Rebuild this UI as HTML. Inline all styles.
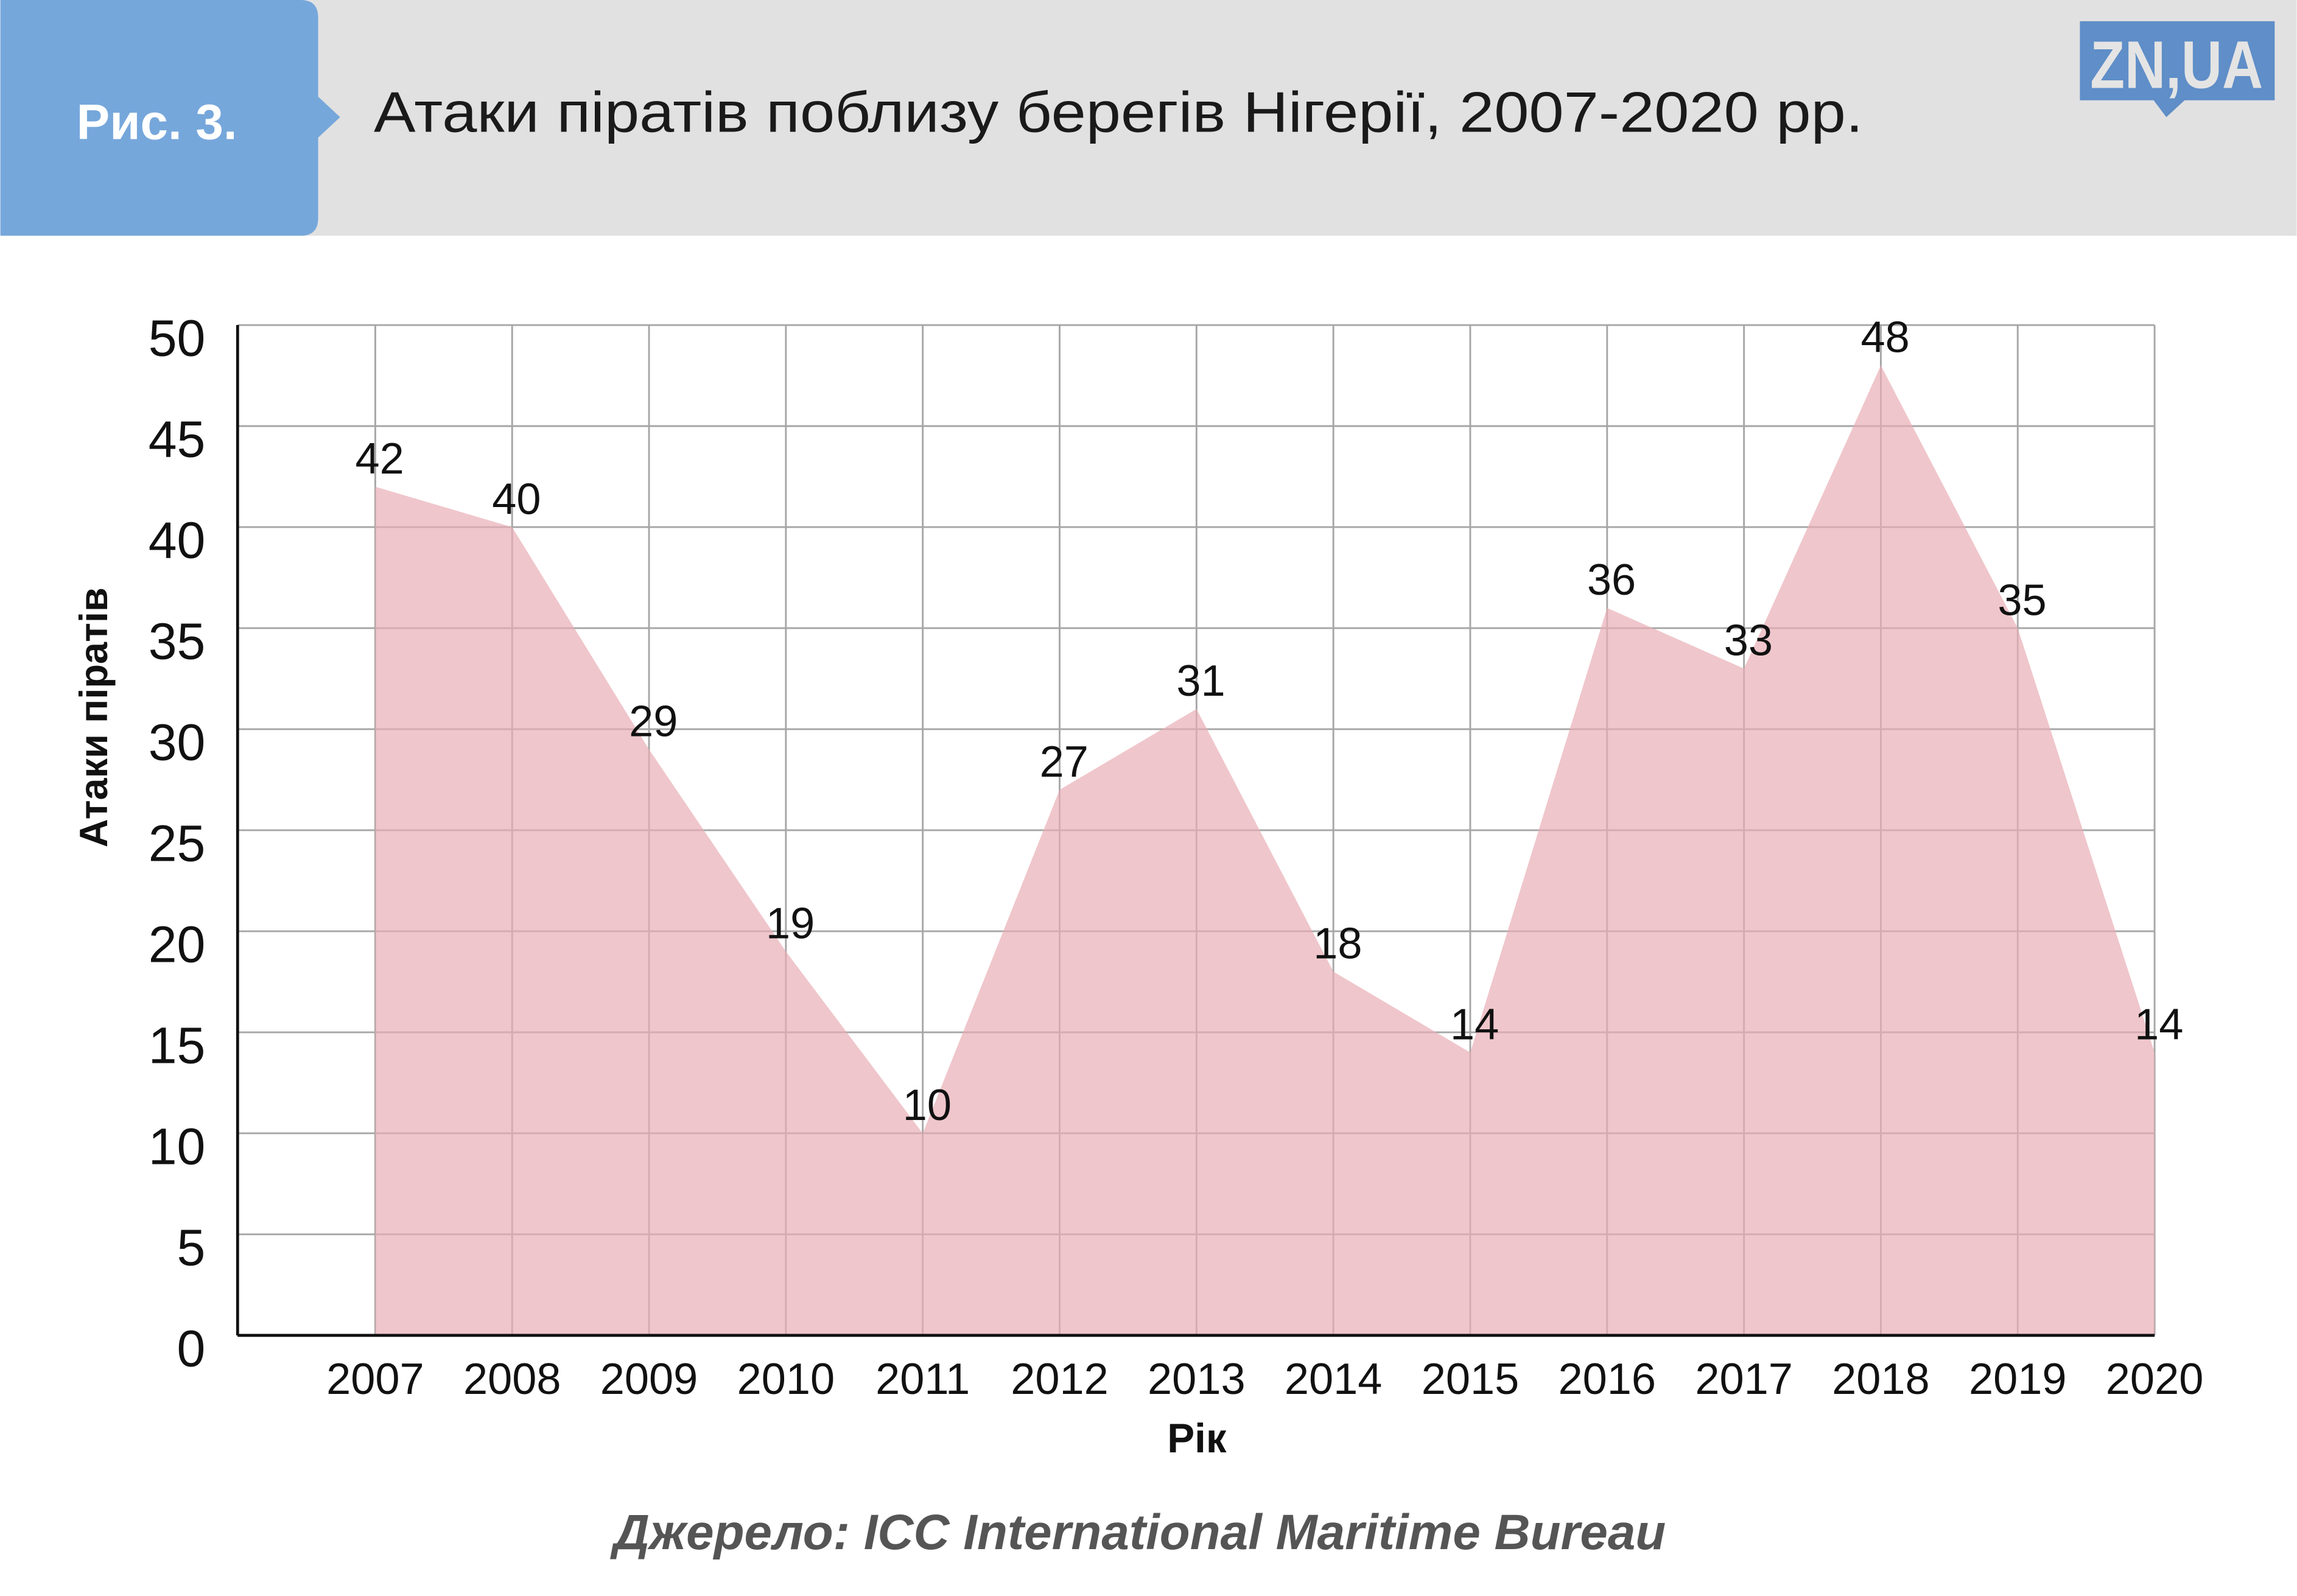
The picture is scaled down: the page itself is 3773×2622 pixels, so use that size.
<!DOCTYPE html>
<html><head><meta charset="utf-8"><style>
html,body{margin:0;padding:0;background:#fff}
svg{display:block}
text{font-family:"Liberation Sans","DejaVu Sans",sans-serif}
</style></head><body>
<svg id="chart" width="3773" height="2622" viewBox="0 0 1568 1090" xmlns="http://www.w3.org/2000/svg">
<rect x="0" y="0" width="1568" height="161" fill="#e1e1e1"/>
<path d="M0 0 H205 Q217 0 217 12 V66 L232 80 L217 94 V149 Q217 161 205 161 H0 Z" fill="#76a7db"/>
<text x="52" y="95" font-size="34" font-weight="bold" fill="#fff">Рис. 3.</text>
<text x="255" y="90" font-size="39" fill="#1a1a1a" textLength="1017" lengthAdjust="spacingAndGlyphs">Атаки піратів поблизу берегів Нігерії, 2007-2020 рр.</text>
<g>
<rect x="1420" y="14.5" width="133" height="54" fill="#5f8ec8"/>
<path d="M1470 68 L1479 80 L1492 68 Z" fill="#5f8ec8"/>
<text x="1486" y="60" font-size="46" font-weight="bold" fill="#e4e4e4" text-anchor="middle" textLength="118" lengthAdjust="spacingAndGlyphs">ZN,UA</text>
</g>
<g id="grid"></g>
<g id="area"></g>
<g id="axes"></g>
<text transform="translate(73,490) rotate(-90)" font-size="27" font-weight="bold" text-anchor="middle" fill="#111">Атаки піратів</text>
<text x="817" y="992" font-size="28" font-weight="bold" text-anchor="middle" fill="#111">Рік</text>
<text x="778" y="1058" font-size="34" font-weight="bold" font-style="italic" text-anchor="middle" fill="#555">Джерело: ICC International Maritime Bureau</text>
</svg>
<script>
const years = [2007,2008,2009,2010,2011,2012,2013,2014,2015,2016,2017,2018,2019,2020];
const attacks = [42,40,29,19,10,27,31,18,14,36,33,48,35,14];
const yTicks = [0,5,10,15,20,25,30,35,40,45,50];
const NS="http://www.w3.org/2000/svg";
const X0=256,X1=1471,Y0=912,Y1=222,AX=162;
function x(i){return X0+(X1-X0)*i/(years.length-1);}
function y(v){return Y0-(Y0-Y1)*v/50;}
function mk(tag,attrs,parent,txt){const e=document.createElementNS(NS,tag);for(const k in attrs)e.setAttribute(k,attrs[k]);if(txt!==undefined)e.textContent=txt;parent.appendChild(e);return e;}
const grid=document.getElementById('grid'),area=document.getElementById('area'),axes=document.getElementById('axes');
yTicks.forEach(t=>{
  const l=mk('line',{x1:AX,x2:X1,y1:y(t),y2:y(t),stroke:'#a6a6a6','stroke-width':1.2},grid);
  
  
  const tx=mk('text',{x:140,y:y(t)+21,'font-size':35,'text-anchor':'end',fill:'#111'},axes,String(t));
  
  
});
years.forEach((yr,i)=>{
  const l=mk('line',{x1:x(i),x2:x(i),y1:Y1,y2:Y0,stroke:'#a6a6a6','stroke-width':1.2},grid);
  
  
  const tx=mk('text',{x:x(i),y:952,'font-size':30,'text-anchor':'middle',fill:'#111'},axes,String(yr));
  
  
});
let d='M'+x(0)+' '+Y0;
attacks.forEach((v,i)=>{d+=' L'+x(i)+' '+y(v);});
d+=' L'+x(attacks.length-1)+' '+Y0+' Z';
const p=mk('path',{d:d,fill:'#e8aeb5','fill-opacity':0.7},area);


attacks.forEach((v,i)=>{
  const tx=mk('text',{x:x(i)+3,y:y(v)-9,'font-size':30,'text-anchor':'middle',fill:'#111'},area,String(v));
  
  
});
const va=mk('line',{x1:AX,x2:AX,y1:Y1,y2:Y0,stroke:'#111','stroke-width':2},axes);


const ha=mk('line',{x1:AX,x2:X1,y1:Y0,y2:Y0,stroke:'#111','stroke-width':2},axes);


</script>
</body></html>
